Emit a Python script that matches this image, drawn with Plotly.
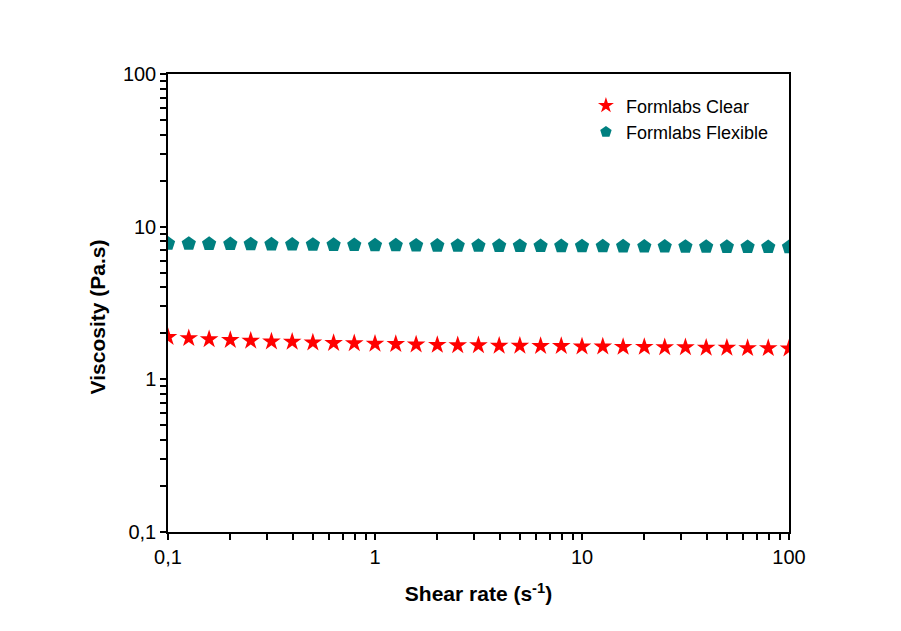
import plotly.graph_objects as go

shear_rate = [0.1, 0.126, 0.158, 0.2, 0.251, 0.316, 0.398, 0.501, 0.631, 0.794,
              1, 1.26, 1.58, 2, 2.51, 3.16, 3.98, 5.01, 6.31, 7.94,
              10, 12.6, 15.8, 20, 25.1, 31.6, 39.8, 50.1, 63.1, 79.4, 100]
clear_visc = [1.89, 1.86, 1.83, 1.81, 1.79, 1.77, 1.76, 1.74, 1.73, 1.72, 1.71,
              1.70, 1.69, 1.68, 1.67, 1.67, 1.66, 1.66, 1.65, 1.65, 1.64, 1.64,
              1.63, 1.63, 1.62, 1.62, 1.61, 1.61, 1.60, 1.60, 1.59]
flex_visc = [7.75, 7.74, 7.72, 7.70, 7.68, 7.66, 7.64, 7.62, 7.60, 7.58, 7.56,
             7.55, 7.54, 7.52, 7.51, 7.50, 7.49, 7.48, 7.47, 7.46, 7.45, 7.44,
             7.43, 7.42, 7.41, 7.40, 7.39, 7.38, 7.37, 7.36, 7.35]
tick_vals = [0.1, 0.2, 0.3, 0.4, 0.5, 0.6, 0.7, 0.8, 0.9,
             1, 2, 3, 4, 5, 6, 7, 8, 9,
             10, 20, 30, 40, 50, 60, 70, 80, 90, 100]
tick_text = ["0,1", "", "", "", "", "", "", "", "",
             "1", "", "", "", "", "", "", "", "",
             "10", "", "", "", "", "", "", "", "", "100"]

FONT = "Liberation Sans, Arial, sans-serif"

fig = go.Figure()
fig.add_trace(go.Scatter(x=shear_rate, y=clear_visc, mode="markers", name="Formlabs Clear",
                         marker=dict(symbol="star", size=14, color="#FF0000")))
fig.add_trace(go.Scatter(x=shear_rate, y=flex_visc, mode="markers", name="Formlabs Flexible",
                         marker=dict(symbol="pentagon", size=15, color="#008080")))

axis_common = dict(type="log", range=[-1, 2], showgrid=False, zeroline=False, showline=True,
                   linecolor="black", linewidth=1.5, mirror=True, ticks="outside",
                   ticklen=6, tickwidth=1.5, tickcolor="black",
                   tickmode="array", tickvals=tick_vals, ticktext=tick_text,
                   tickfont=dict(family=FONT, size=20, color="black"))

fig.update_layout(
    xaxis=dict(title=dict(text="<b>Shear rate (s<sup>-1</sup>)</b>", standoff=20,
                          font=dict(family=FONT, size=21, color="black")),
               **axis_common),
    yaxis=dict(**axis_common),
)

fig.add_annotation(text="<b>Viscosity (Pa.s)</b>", xref="paper", yref="paper",
                   x=-0.114, y=0.469, xanchor="center", yanchor="middle",
                   textangle=-90, showarrow=False,
                   font=dict(family=FONT, size=21, color="black"))

fig.update_layout(width=901, height=631,
                  margin=dict(l=160, r=120, t=66, b=107),
                  paper_bgcolor="white", plot_bgcolor="white",
                  showlegend=True,
                  legend=dict(x=0.673, y=0.971, xanchor="left", yanchor="top",
                              bgcolor="rgba(0,0,0,0)", borderwidth=0,
                              font=dict(family=FONT, size=18, color="black"),
                              itemsizing="constant", tracegroupgap=4))

fig.write_html("out.html")
